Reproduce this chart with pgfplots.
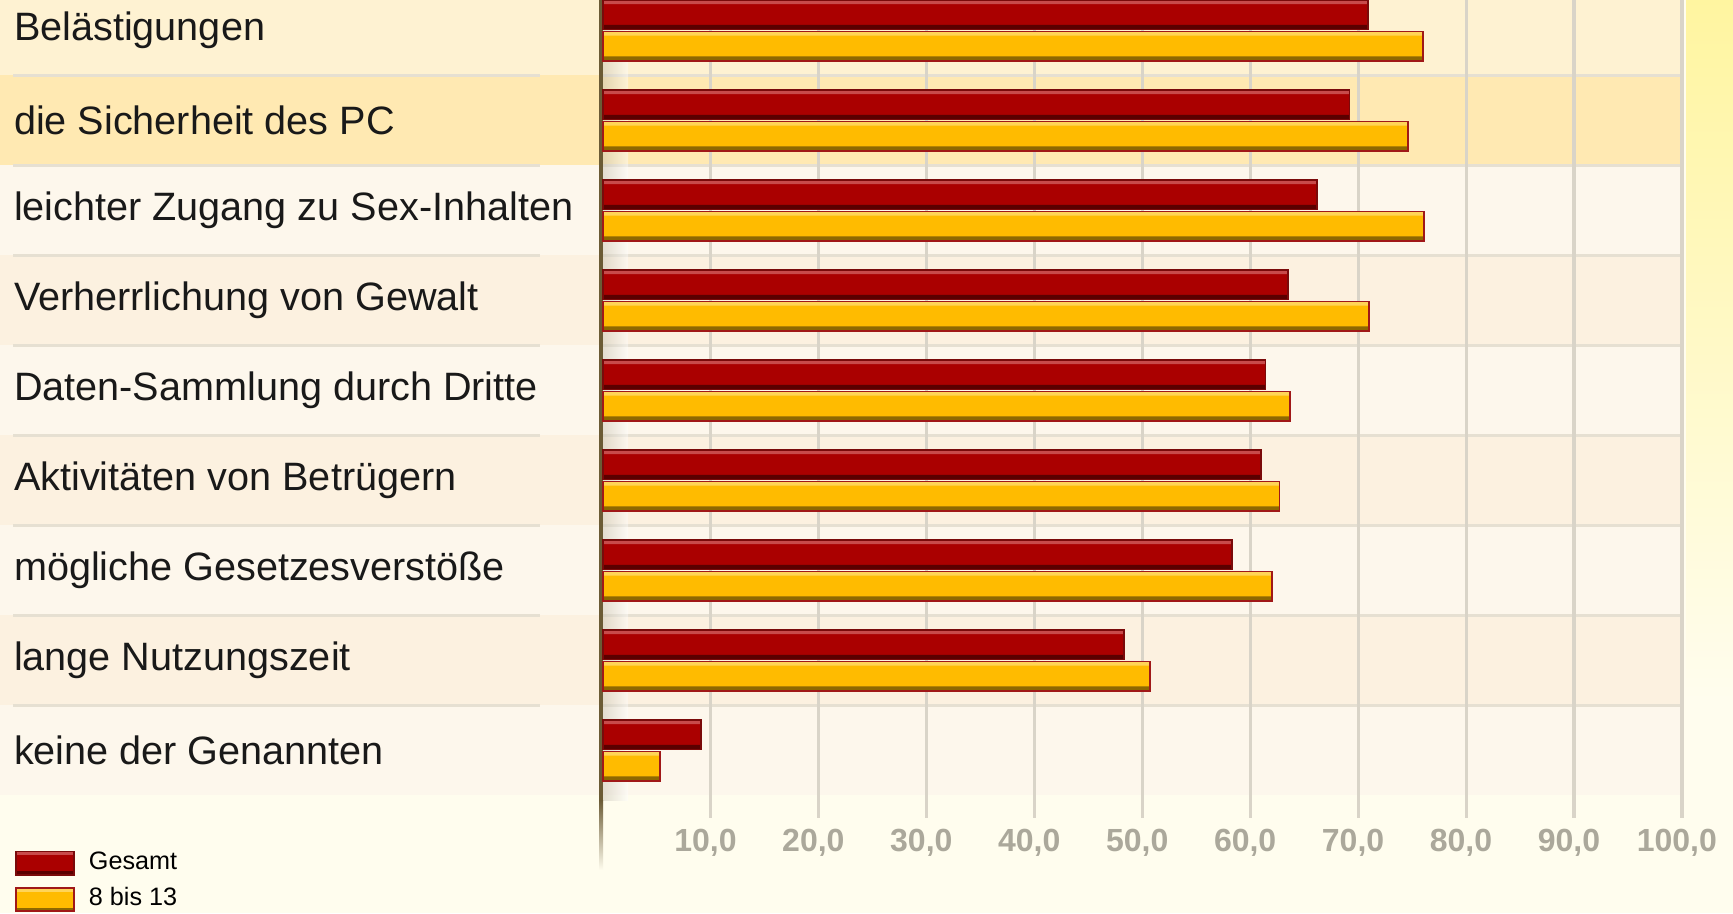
\documentclass[border=0pt]{standalone}
\usepackage{fontspec}
\setmainfont{Liberation Sans}
\usepackage{pgfplots}
\pgfplotsset{compat=1.18}
\definecolor{bg}{HTML}{FFFDEE}
\definecolor{rA}{HTML}{FEF2D2}
\definecolor{rB}{HTML}{FFE9B2}
\definecolor{rC}{HTML}{FDF7EC}
\definecolor{rD}{HTML}{FCF1E0}
\definecolor{sep}{HTML}{E6E0D2}
\definecolor{gridc}{HTML}{D9D4C8}
\definecolor{tickc}{HTML}{ABA89B}
\definecolor{redm}{HTML}{AA0000}
\definecolor{redt}{HTML}{C84A4A}
\definecolor{redb}{HTML}{5A0000}
\definecolor{redd}{HTML}{7A0A0A}
\definecolor{yelm}{HTML}{FFBB00}
\definecolor{yelt}{HTML}{FFD458}
\definecolor{yelb}{HTML}{8E6800}
\definecolor{yeld}{HTML}{A01818}
\definecolor{axc}{HTML}{6B5B35}
\definecolor{glow}{HTML}{FFF5A0}
\pgfplotsset{
  legG/.style={legend image code/.code={%
    \path[draw=none,fill=redm] (0pt,-2.9pt) rectangle (14.5pt,2.9pt);
    \path[draw=none,fill=redt] (0.2pt,2.0pt) rectangle (14.3pt,2.9pt);
    \path[draw=none,fill=redb] (0.2pt,-2.9pt) rectangle (14.3pt,-2.0pt);
    \path[draw=redd,fill=none,line width=0.4pt] (0pt,-2.9pt) rectangle (14.5pt,2.9pt);}},
  legY/.style={legend image code/.code={%
    \path[draw=none,fill=yelm] (0pt,-2.9pt) rectangle (14.5pt,2.9pt);
    \path[draw=none,fill=yelt] (0.2pt,2.0pt) rectangle (14.3pt,2.9pt);
    \path[draw=none,fill=yelb] (0.2pt,-2.9pt) rectangle (14.3pt,-2.0pt);
    \path[draw=yeld,fill=none,line width=0.4pt] (0pt,-2.9pt) rectangle (14.5pt,2.9pt);}},
}
\begin{document}
\begin{tikzpicture}
\begin{scope}[yshift=228.25pt,x=0.25pt,y=-0.25pt]
  \fill[bg] (0,0) rectangle (1733,913);
  % right glow
  \shade[top color=glow, bottom color=bg] (1686,0) rectangle (1733,700);
  % row bands
  \foreach \i/\c in {0/rA,1/rB,2/rC,3/rD,4/rC,5/rD,6/rC,7/rD,8/rC}{
    \fill[\c] (0,{30.4+90*(\i-0.5)}) rectangle (1684,{30.4+90*(\i+0.5)});
  }
  % separators
  \foreach \i in {1,...,8}{
    \draw[sep,line width=0.8pt] (13,{30.4+90*(\i-0.5)}) -- (540,{30.4+90*(\i-0.5)});
    \draw[sep,line width=0.8pt] (603,{30.4+90*(\i-0.5)}) -- (1684,{30.4+90*(\i-0.5)});
  }
  % axis shadow
  \shade[left color=axc!40, right color=white, opacity=0.45] (603,0) rectangle (628,800);
  \fill[axc] (599,0) rectangle (603,800);
  \shade[top color=axc, bottom color=bg] (599,800) rectangle (603,870);
\end{scope}
\begin{axis}[
  at={(150.675pt,23.75pt)}, anchor=south west,
  scale only axis, width=269.85pt, height=204.5pt,
  xbar, bar width=0.33,
  xmin=0, xmax=100, ymin=-0.338, ymax=8.75, y dir=reverse,
  axis line style={draw=none}, major tick length=0pt,
  xtick={10,20,...,100},
  xticklabels={{10,0},{20,0},{30,0},{40,0},{50,0},{60,0},{70,0},{80,0},{90,0},{100,0}},
  xmajorgrids, major grid style={draw=gridc, line width=0.85pt},
  ytick={0,...,8},
  yticklabels={Belästigungen,die Sicherheit des PC,leichter Zugang zu Sex-Inhalten,Verherrlichung von Gewalt,Daten-Sammlung durch Dritte,Aktivitäten von Betrügern,mögliche Gesetzesverstöße,lange Nutzungszeit,keine der Genannten},
  yticklabel style={anchor=west, xshift=-147.35pt, inner sep=0pt, font=\fontsize{9.9}{12}\selectfont, text=black!90},
  xticklabel style={anchor=center, inner sep=0pt, yshift=-6.3pt, xshift=-1.3pt, font=\bfseries\fontsize{8}{10}\selectfont, text=tickc},
  clip=false,
  legend style={at={(axis description cs:-0.5445,-0.036)}, anchor=north west, draw=none, fill=none, inner sep=0pt, outer sep=0pt, font=\fontsize{6.3}{7.5}\selectfont, row sep=1.1pt, nodes={inner sep=1pt}, /tikz/every odd column/.append style={column sep=2.6pt}},
  legend cell align=left,
]
% Gesamt
\addplot[xbar, bar shift=-0.175, draw=redd, line width=0.4pt, fill=redm, legG]
  coordinates {(70.9,0) (69.2,1) (66.2,2) (63.5,3) (61.4,4) (61.0,5) (58.3,6) (48.3,7) (9.1,8)};
\addplot[xbar, forget plot, bar shift=-0.312, bar width=0.04, draw=none, fill=redt]
  coordinates {(70.9,0) (69.2,1) (66.2,2) (63.5,3) (61.4,4) (61.0,5) (58.3,6) (48.3,7) (9.1,8)};
\addplot[xbar, forget plot, bar shift=-0.04, bar width=0.045, draw=none, fill=redb]
  coordinates {(70.9,0) (69.2,1) (66.2,2) (63.5,3) (61.4,4) (61.0,5) (58.3,6) (48.3,7) (9.1,8)};
\addplot[xbar, forget plot, bar shift=-0.175, draw=redd, line width=0.4pt, fill=none]
  coordinates {(70.9,0) (69.2,1) (66.2,2) (63.5,3) (61.4,4) (61.0,5) (58.3,6) (48.3,7) (9.1,8)};
% 8 bis 13
\addplot[xbar, bar shift=0.175, draw=yeld, line width=0.4pt, fill=yelm, legY]
  coordinates {(76.0,0) (74.6,1) (76.1,2) (71.0,3) (63.7,4) (62.7,5) (62.0,6) (50.7,7) (5.3,8)};
\addplot[xbar, forget plot, bar shift=0.038, bar width=0.04, draw=none, fill=yelt]
  coordinates {(76.0,0) (74.6,1) (76.1,2) (71.0,3) (63.7,4) (62.7,5) (62.0,6) (50.7,7) (5.3,8)};
\addplot[xbar, forget plot, bar shift=0.31, bar width=0.045, draw=none, fill=yelb]
  coordinates {(76.0,0) (74.6,1) (76.1,2) (71.0,3) (63.7,4) (62.7,5) (62.0,6) (50.7,7) (5.3,8)};
\addplot[xbar, forget plot, bar shift=0.175, draw=yeld, line width=0.4pt, fill=none]
  coordinates {(76.0,0) (74.6,1) (76.1,2) (71.0,3) (63.7,4) (62.7,5) (62.0,6) (50.7,7) (5.3,8)};
\legend{Gesamt,8 bis 13}
\end{axis}
\pgfresetboundingbox
\path[use as bounding box] (0,0) rectangle (433.25pt,228.25pt);
\end{tikzpicture}
\end{document}
